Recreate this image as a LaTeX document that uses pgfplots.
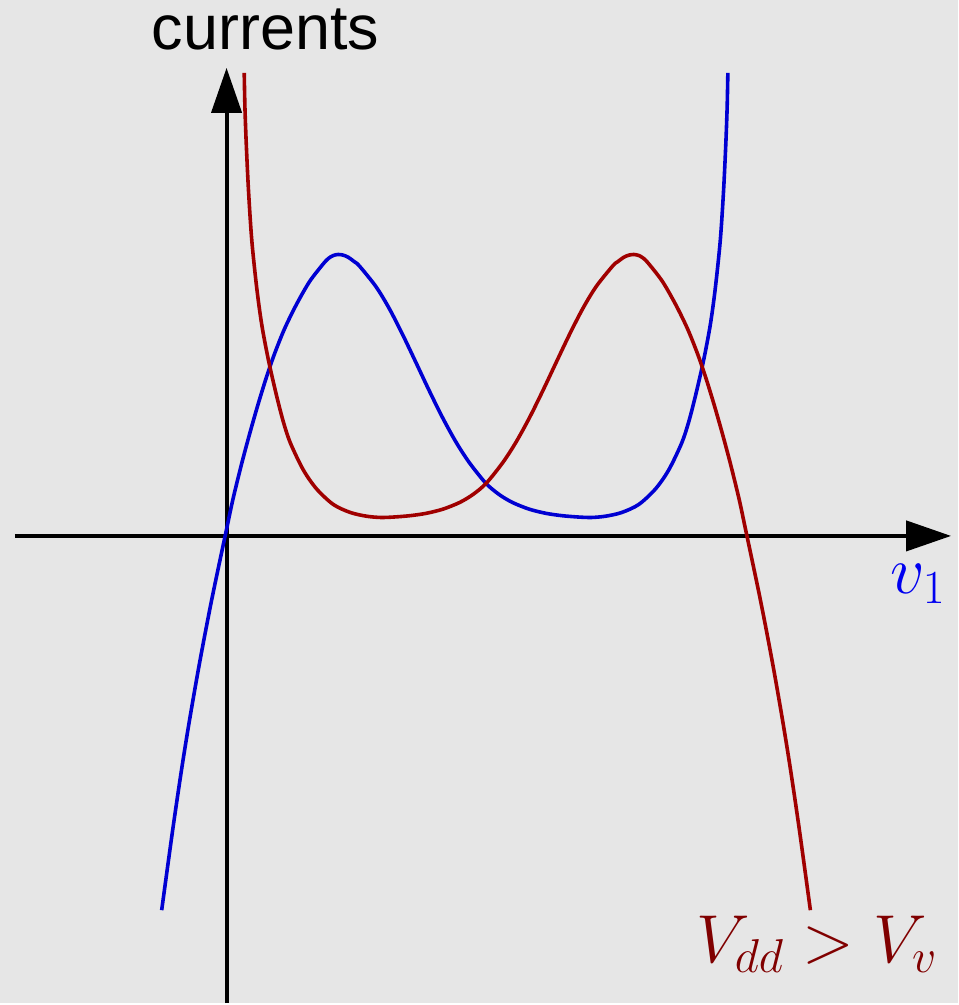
\documentclass[border=0pt]{standalone}
\usepackage{fix-cm}
\usepackage{fontspec}
\setsansfont{Liberation Sans}
\usepackage{pgfplots}
\pgfplotsset{compat=1.18}
\usetikzlibrary{arrows.meta}

\definecolor{bg}{RGB}{230,230,230}
\definecolor{curveblue}{RGB}{0,0,210}
\definecolor{curvered}{RGB}{160,0,0}
\definecolor{labelblue}{RGB}{0,0,240}
\definecolor{labelred}{RGB}{128,0,0}

% current of the first device against v1
\pgfplotstableread{
u v
-65 -375
-54 -294.8
-45 -233.6
-37 -184
-27 -127
-15 -64.6
0 6.7
6.3 36.3
14.7 70.7
23 101.8
31.3 130.9
39.7 158.2
48 182.3
58 207.3
69.7 231.3
83 254.6
96.3 271.9
102 278
107 281
112 282
117 281.3
122 279.2
128 274.8
133 270.6
149.7 249.8
163 227.9
176.3 202
189.7 173.9
203 145.7
216.3 118.8
229.7 94.4
243 73.8
259.7 52.9
273 41.6
286.3 33.6
303 26.9
319.7 22.7
336 20.3
353 18.9
366 18.5
380 19.8
396 23.5
413 31.5
429.7 47
443 66
456 93
463 114
470 141
478 176
484.7 211.5
489.7 248
494.7 296
498 346
500.3 394
501.6 430
502.3 464
}\firstdev

% current of the second device (load curve for Vdd > Vv)
\pgfplotstableread{
u v
17.7 464
18.4 430
19.7 394
22 346
25.3 296
30.3 248
35.3 211.5
42 176
50 141
57 114
64 93
77 66
90.3 47
107 31.5
124 23.5
140 19.8
154 18.5
167 18.9
184 20.3
200.3 22.7
217 26.9
233.7 33.6
247 41.6
260.3 52.9
277 73.8
290.3 94.4
303.7 118.8
317 145.7
330.3 173.9
343.7 202
357 227.9
370.3 249.8
387 270.6
392 274.8
398 279.2
403 281.3
408 282
413 281
418 278
423.7 271.9
437 254.6
450.3 231.3
462 207.3
472 182.3
480.3 158.2
488.7 130.9
497 101.8
505.3 70.7
513.7 36.3
520 6.7
535 -64.6
547 -127
557 -184
565 -233.6
574 -294.8
585 -375
}\seconddev

\begin{document}
\begin{tikzpicture}
\begin{axis}[
  x=0.5pt, y=0.5pt,
  xmin=-227, xmax=733, ymin=-468, ymax=537,
  hide axis, clip=false,
]
\fill[bg] (axis cs:-227,-468) rectangle (axis cs:733,537);
\draw[line width=2pt, -{Triangle[length=22.5pt,width=15pt]}]
  (axis cs:-212,0) -- (axis cs:726,0);
\draw[line width=2pt, -{Triangle[length=22.5pt,width=15pt]}]
  (axis cs:0,-468) -- (axis cs:0,469);
\addplot[curveblue, line width=1.8pt, smooth, tension=0.5] table[x=u, y=v] {\firstdev};
\addplot[curvered, line width=1.8pt, smooth, tension=0.5] table[x=u, y=v] {\seconddev};
\node[anchor=base, inner sep=0pt, font=\sffamily\fontsize{31.5}{36}\selectfont]
  at (axis cs:39,487) {currents};
\node[anchor=base west, inner sep=0pt, text=labelblue, font=\fontsize{34}{40}\selectfont]
  at (axis cs:665,-58) {$v_1$};
\node[anchor=base west, inner sep=0pt, text=labelred, font=\fontsize{34}{40}\selectfont]
  at (axis cs:470,-427) {$V_{dd} > V_v$};
\end{axis}
\end{tikzpicture}
\end{document}
